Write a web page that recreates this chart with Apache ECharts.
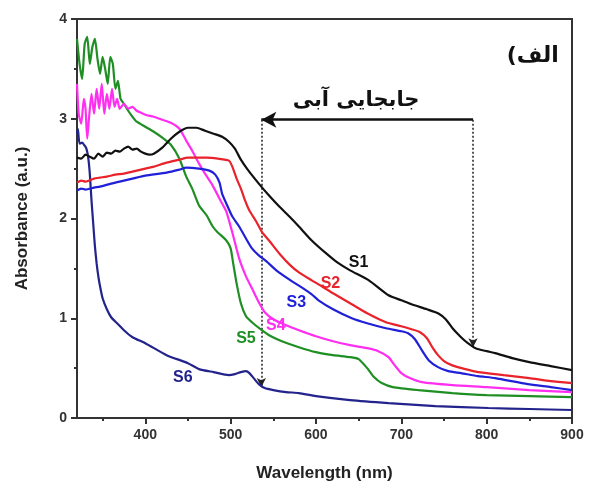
<!DOCTYPE html>
<html>
<head>
<meta charset="utf-8">
<script src="https://cdn.jsdelivr.net/npm/echarts@6/dist/echarts.min.js"></script>
<style>
  html, body { margin: 0; padding: 0; background: #fff; }
  #chart { width: 593px; height: 483px; }
</style>
</head>
<body>
<div id="chart"></div>
<script>
// 波长 / 吸光度 数据
var s1 = [[320,2.61],[325,2.60],[330,2.64],[335,2.62],[340,2.60],[345,2.65],[350,2.62],[355,2.66],[360,2.65],[365,2.68],[370,2.67],[375,2.70],[380,2.72],[385,2.69],[390,2.70],[395,2.67],[400,2.65],[405,2.64],[410,2.65],[420,2.71],[430,2.80],[440,2.87],[450,2.91],[460,2.91],[470,2.88],[480,2.85],[490,2.82],[498,2.77],[505,2.70],[512,2.59],[520,2.49],[533,2.35],[545,2.23],[557,2.12],[570,2.01],[580,1.92],[595,1.78],[612,1.65],[625,1.56],[640,1.48],[662,1.38],[685,1.23],[700,1.18],[712,1.14],[730,1.09],[743,1.05],[752,0.99],[760,0.90],[770,0.81],[778,0.75],[787,0.70],[800,0.67],[810,0.65],[830,0.60],[850,0.56],[875,0.52],[900,0.48]];
var s2 = [[320,2.36],[325,2.38],[330,2.37],[340,2.40],[347,2.41],[355,2.42],[365,2.44],[375,2.45],[385,2.47],[400,2.50],[410,2.52],[425,2.56],[440,2.59],[450,2.61],[460,2.61],[472,2.61],[485,2.60],[498,2.58],[502,2.52],[507,2.40],[512,2.30],[517,2.18],[522,2.08],[530,1.97],[537,1.86],[545,1.78],[557,1.65],[570,1.53],[580,1.46],[595,1.38],[603,1.34],[620,1.25],[642,1.14],[660,1.05],[682,0.96],[700,0.92],[712,0.89],[722,0.86],[730,0.80],[737,0.70],[743,0.63],[750,0.57],[759,0.53],[775,0.49],[790,0.46],[820,0.43],[850,0.40],[875,0.37],[900,0.35]];
var s3 = [[320,2.28],[325,2.30],[330,2.29],[340,2.31],[347,2.32],[360,2.35],[375,2.38],[385,2.40],[400,2.43],[425,2.46],[440,2.49],[448,2.51],[463,2.50],[475,2.48],[482,2.44],[487,2.36],[490,2.25],[495,2.15],[502,2.02],[510,1.92],[518,1.80],[525,1.70],[533,1.63],[542,1.57],[555,1.47],[572,1.37],[585,1.30],[595,1.24],[603,1.18],[620,1.09],[642,1.00],[660,0.95],[682,0.90],[700,0.87],[708,0.85],[716,0.79],[724,0.68],[732,0.58],[743,0.51],[755,0.47],[770,0.45],[790,0.42],[810,0.40],[848,0.34],[875,0.31],[900,0.28]];
var s4 = [[320,3.35],[322,3.05],[325,2.95],[328,3.20],[330,3.10],[332,2.80],[334,3.00],[337,3.25],[340,3.05],[343,3.30],[346,3.10],[349,3.35],[352,3.05],[355,3.25],[358,3.10],[361,3.30],[364,3.12],[367,3.20],[370,3.10],[375,3.15],[380,3.10],[385,3.12],[390,3.08],[395,3.06],[400,3.04],[410,3.02],[420,2.99],[430,2.96],[440,2.90],[448,2.78],[455,2.68],[463,2.55],[470,2.45],[479,2.33],[490,2.15],[495,2.07],[502,1.86],[510,1.60],[518,1.42],[525,1.30],[533,1.16],[540,1.06],[550,0.99],[565,0.93],[580,0.88],[600,0.82],[620,0.77],[640,0.73],[660,0.70],[673,0.67],[685,0.61],[693,0.52],[700,0.45],[710,0.40],[724,0.36],[760,0.33],[800,0.31],[850,0.28],[900,0.26]];
var s5 = [[320,3.80],[323,3.55],[326,3.40],[329,3.75],[332,3.82],[335,3.55],[338,3.72],[341,3.80],[344,3.60],[347,3.45],[350,3.62],[353,3.50],[356,3.35],[359,3.62],[362,3.55],[365,3.30],[368,3.38],[371,3.20],[375,3.15],[380,3.08],[385,3.02],[390,2.97],[400,2.92],[410,2.87],[420,2.81],[430,2.74],[440,2.60],[448,2.42],[455,2.30],[463,2.13],[472,2.03],[479,1.92],[485,1.86],[495,1.78],[500,1.70],[503,1.55],[507,1.35],[512,1.15],[518,1.02],[525,0.96],[535,0.89],[545,0.83],[560,0.77],[580,0.71],[600,0.66],[620,0.63],[640,0.61],[650,0.59],[660,0.50],[668,0.41],[677,0.35],[690,0.31],[720,0.28],[760,0.25],[800,0.23],[850,0.22],[900,0.21]];
var s6 = [[320,2.85],[321,2.90],[323,2.75],[326,2.76],[329,2.73],[331,2.70],[333,2.62],[335,2.45],[337,2.18],[339,1.95],[341,1.72],[343,1.55],[345,1.42],[347,1.32],[350,1.20],[355,1.09],[360,1.01],[367,0.95],[375,0.88],[385,0.81],[400,0.75],[425,0.63],[450,0.55],[463,0.49],[480,0.46],[498,0.43],[505,0.44],[512,0.46],[518,0.47],[522,0.45],[527,0.40],[533,0.34],[540,0.30],[550,0.28],[565,0.26],[580,0.25],[600,0.22],[640,0.18],[685,0.15],[740,0.12],[802,0.10],[850,0.09],[900,0.08]];

var xMajorTicks = [400, 500, 600, 700, 800, 900];
var xMinorTicks = [350, 450, 550, 650, 750, 850];

var names = ['S1', 'S2', 'S3', 'S4', 'S5', 'S6'];
var colors = ['#111111', '#e8232b', '#2020d8', '#ff2ef0', '#1f8f24', '#23238c'];
var allData = [s1, s2, s3, s4, s5, s6];
// 曲线标签位置 (数据坐标)
var labelAt = [[650, 1.56], [617, 1.35], [577, 1.16], [553, 0.93], [518, 0.80], [444, 0.41]];

var chart = echarts.init(document.getElementById('chart'));
var font = 'Liberation Sans, Arial, sans-serif';

var series = allData.map(function (d, i) {
  return {
    name: names[i],
    type: 'line',
    data: d,
    showSymbol: false,
    smooth: 0.2,
    z: 10 - i,
    lineStyle: { color: colors[i], width: 2.2 },
    markPoint: {
      symbol: 'circle',
      symbolSize: 0,
      data: [{ coord: labelAt[i] }],
      label: {
        show: true,
        formatter: names[i],
        color: colors[i],
        fontFamily: font,
        fontWeight: 'bold',
        fontSize: 16
      }
    }
  };
});

// 箭头与注释
series.push({
  type: 'line',
  data: [],
  markLine: {
    silent: true,
    animation: false,
    label: { show: false },
    symbolSize: [12, 15],
    data: [
      [{ coord: [784, 2.99], symbol: 'none', lineStyle: { type: 'solid', width: 2.5, color: '#111' } },
       { coord: [536, 2.99], symbol: 'arrow' }],
      [{ coord: [536, 2.99], symbol: 'none', lineStyle: { type: [2, 2], width: 1.5, color: '#222' } },
       { coord: [536, 0.31], symbol: 'arrow', symbolSize: [7, 9] }],
      [{ coord: [784, 2.99], symbol: 'none', lineStyle: { type: [2, 2], width: 1.5, color: '#222' } },
       { coord: [784, 0.71], symbol: 'arrow', symbolSize: [7, 9] }]
    ]
  },
  markPoint: {
    symbol: 'circle',
    symbolSize: 0,
    label: { show: true, color: '#111', fontFamily: 'DejaVu Sans', fontWeight: 'bold', fontSize: 21 },
    data: [
      { coord: [647, 3.18], label: { formatter: 'جابجایی آبی' } },
      // 画布按从右到左排版, 括号写在前面才会显示在右侧
      { coord: [854, 3.63], label: { formatter: '(الف', fontSize: 22 } }
    ]
  }
});

var option = {
  animation: false,
  grid: {
    left: 77,
    right: 21,
    top: 19,
    bottom: 65,
    outerBoundsMode: 'none',
    show: true,
    borderColor: '#333',
    borderWidth: 2
  },
  xAxis: [{
    type: 'value',
    min: 320,
    max: 900,
    name: 'Wavelength (nm)',
    nameLocation: 'middle',
    nameGap: 47,
    nameTextStyle: { fontFamily: font, fontWeight: 'bold', fontSize: 17, color: '#222' },
    splitLine: { show: false },
    axisLine: { lineStyle: { color: '#333', width: 2 } },
    axisTick: { customValues: xMajorTicks, length: 6, lineStyle: { color: '#333', width: 2 } },
    axisLabel: { customValues: xMajorTicks, fontFamily: font, fontWeight: 'bold', fontSize: 14, color: '#333', margin: 10 }
  }, {
    type: 'value',
    min: 320,
    max: 900,
    position: 'bottom',
    splitLine: { show: false },
    axisLine: { show: false },
    axisTick: { customValues: xMinorTicks, length: 3, lineStyle: { color: '#333', width: 2 } },
    axisLabel: { show: false }
  }],
  yAxis: {
    type: 'value',
    min: 0,
    max: 4,
    interval: 1,
    name: 'Absorbance (a.u.)',
    nameLocation: 'middle',
    nameGap: 46,
    nameTextStyle: { fontFamily: font, fontWeight: 'bold', fontSize: 17, color: '#222' },
    splitLine: { show: false },
    axisLine: { show: true, lineStyle: { color: '#333', width: 2 } },
    axisTick: { show: true, length: 6, lineStyle: { color: '#333', width: 2 } },
    minorTick: { show: true, splitNumber: 2, length: 3, lineStyle: { color: '#333', width: 2 } },
    axisLabel: { fontFamily: font, fontWeight: 'bold', fontSize: 14, color: '#333', margin: 10 }
  },
  series: series
};

chart.setOption(option);
</script>
</body>
</html>
